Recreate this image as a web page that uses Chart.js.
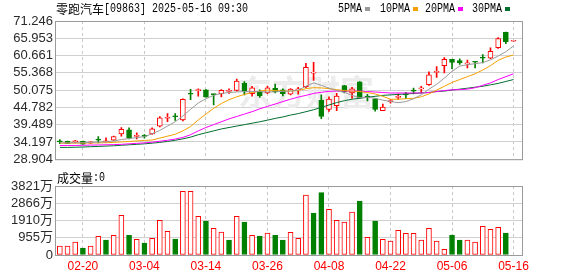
<!DOCTYPE html>
<html>
<head>
<meta charset="utf-8">
<script src="https://cdn.jsdelivr.net/npm/chart.js@4.4.1/dist/chart.umd.min.js"></script>
<style>
  html, body { margin: 0; padding: 0; background: #fff; }
  #wrap { position: relative; width: 578px; height: 276px; overflow: hidden; }
  #kline { position: absolute; left: 0; top: 0; }
  #vol { position: absolute; left: 0; top: 170px; }
</style>
</head>
<body>
<div id="wrap">
  <canvas id="kline" width="578" height="170"></canvas>
  <canvas id="vol" width="578" height="106"></canvas>
</div>
<script>
// trading days shown (HK market, 2025)
var dates = ['02-17','02-18','02-19','02-20','02-21','02-24','02-25','02-26','02-27','02-28',
  '03-03','03-04','03-05','03-06','03-07','03-10','03-11','03-12','03-13','03-14',
  '03-17','03-18','03-19','03-20','03-21','03-24','03-25','03-26','03-27','03-28',
  '03-31','04-01','04-02','04-03','04-07','04-08','04-09','04-10','04-11','04-14',
  '04-15','04-16','04-17','04-22','04-23','04-24','04-25','04-28','04-29','04-30',
  '05-02','05-06','05-07','05-08','05-09','05-12','05-13','05-14','05-15','05-16'];

var open = [34.34,34.40,34.25,34.40,33.81,34.85,34.25,34.70,36.64,37.93,
  35.90,36.05,36.64,38.99,41.45,42.05,40.96,48.95,49.93,50.16,
  48.81,48.99,49.69,49.99,52.13,48.99,49.78,49.19,50.66,50.16,
  48.81,50.16,51.16,55.28,47.05,44.19,45.28,51.46,49.19,52.63,
  48.02,47.43,43.81,46.55,47.87,48.75,49.93,50.43,51.75,55.49,
  57.57,59.48,59.13,58.10,58.72,59.98,59.87,63.07,67.78,65.05];
var high = [34.93,34.45,34.70,34.45,34.25,35.81,35.46,36.00,38.61,38.52,
  36.99,36.46,38.52,41.93,42.87,42.87,47.43,50.28,50.46,50.20,
  48.85,50.22,50.46,53.46,52.72,51.25,50.16,51.34,51.93,50.46,
  50.52,50.96,58.31,58.60,48.61,48.02,49.11,51.55,50.96,52.72,
  48.81,47.50,45.81,47.22,48.90,49.43,50.66,51.25,55.66,57.28,
  60.07,59.50,59.69,59.28,58.81,60.95,63.01,66.19,67.87,65.15];
var low = [33.70,33.65,33.90,33.45,33.75,33.90,34.05,34.60,35.96,35.08,
  35.08,35.37,36.46,38.76,40.37,40.75,40.66,47.13,48.22,47.90,
  45.52,48.02,49.05,49.78,48.61,48.22,47.81,48.99,49.19,48.31,
  48.61,48.81,50.81,53.01,41.34,43.52,43.75,49.19,47.52,47.43,
  46.75,43.61,43.75,46.05,47.22,47.43,48.90,49.28,51.49,53.99,
  55.37,56.63,57.95,56.84,56.90,58.40,59.72,62.87,64.33,65.05];
var close = [34.20,33.70,34.32,33.52,34.20,34.75,34.35,35.87,38.02,35.37,
  36.05,35.90,38.22,41.55,41.65,41.90,47.22,48.80,50.07,47.93,
  48.69,49.99,49.84,52.87,49.78,50.75,48.31,50.75,49.49,48.99,
  50.37,50.28,57.05,55.43,41.99,47.34,48.22,49.49,50.46,47.67,
  47.87,44.19,44.87,46.69,48.02,48.61,49.78,50.58,54.78,55.63,
  59.48,58.54,58.37,58.22,58.60,59.84,61.98,65.89,64.92,65.12];

// moving averages as drawn on the chart
var ma5 = [33.90,33.90,33.96,33.96,34.05,34.14,34.20,34.49,34.93,35.23,
  35.52,35.81,36.70,37.73,39.05,40.37,42.14,44.19,46.11,47.43,
  48.46,49.05,49.34,49.49,49.63,49.63,49.63,49.49,49.55,49.69,
  49.78,50.08,51.25,52.28,51.55,50.66,49.93,49.34,48.46,47.72,
  47.87,47.58,46.99,46.55,46.25,46.55,47.43,48.61,50.37,51.84,
  53.75,55.81,57.43,57.87,58.16,58.51,59.34,60.51,61.84,63.60];
var ma10 = [33.81,33.81,33.84,33.84,33.90,33.90,33.96,34.05,34.20,34.34,
  34.49,34.64,34.79,35.37,35.96,36.55,37.58,38.90,40.96,42.72,
  44.49,45.96,47.14,48.02,48.75,49.34,49.78,50.08,49.93,49.78,
  49.78,49.93,50.52,50.81,50.75,50.52,50.22,49.93,49.78,49.63,
  49.34,48.90,48.17,47.28,47.28,47.43,47.58,48.02,48.90,50.08,
  51.25,52.43,53.31,54.19,55.07,56.25,57.57,59.19,60.22,60.81];
var ma20 = [33.11,33.11,33.11,33.17,33.23,33.26,33.32,33.37,33.46,33.61,
  33.76,33.90,34.11,34.40,34.70,35.08,35.58,36.40,37.58,38.61,
  39.49,40.37,41.25,41.99,42.72,43.46,44.34,45.08,45.81,46.55,
  47.28,47.93,48.46,49.05,49.40,49.69,49.78,49.78,49.78,49.78,
  49.63,49.49,49.34,49.19,49.19,49.19,49.19,49.19,49.34,49.63,
  49.93,50.16,50.22,50.37,50.81,51.55,52.28,53.31,54.19,55.07];
var ma30 = [32.52,32.52,32.58,32.64,32.73,32.81,32.93,33.02,33.17,33.32,
  33.46,33.61,33.81,34.05,34.34,34.70,35.14,35.67,36.40,36.99,
  37.58,38.17,38.61,39.05,39.49,39.93,40.37,40.87,41.40,41.84,
  42.43,42.87,43.46,44.05,44.78,45.52,46.25,46.84,47.28,47.58,
  47.87,48.17,48.46,48.61,48.75,48.90,49.05,49.19,49.34,49.63,
  49.78,50.08,50.37,50.66,50.96,51.25,51.69,52.13,52.72,53.31];

// volume in 万 shares, and bar direction (1 = red, -1 = green)
var volume = [498,498,720,388,498,1034,831,1090,2197,1090,
  868,665,923,1920,1311,886,3526,3526,2142,1883,
  1477,1274,831,2142,1828,1090,1052,1218,1090,831,
  1255,923,3323,2326,3452,2529,1920,1828,2381,2991,
  978,1883,868,775,1366,1200,1200,831,1477,775,
  314,1108,831,831,720,1589,1423,1534,1218,0];
var volDir = [1,1,1,-1,1,1,-1,1,1,-1, 1,-1,1,1,1,-1,1,1,1,-1,
  1,1,-1,1,-1,1,-1,1,-1,-1, 1,1,1,-1,-1,1,1,1,1,-1,
  1,-1,1,1,1,1,1,1,1,1, 1,-1,-1,1,1,1,1,1,-1,1];

var priceTicks = [28.904, 34.197, 39.489, 44.782, 50.075, 55.368, 60.661, 65.953, 71.246];
var volTicks = [0, 955, 1910, 2866, 3821];
var xLabels = ['02-20', '03-04', '03-14', '03-26', '04-08', '04-22', '05-06', '05-16'];

var RED = '#ff0000', GREEN = '#008000';
var maColors = ['#9a9a9a', '#f5a000', '#ff00ff', '#006f2e'];
var SANS = "'Liberation Sans', 'Noto Sans CJK SC', sans-serif";

function pts(arr) {
    return arr.map(function (v, i) { return { x: i, y: v }; });
}

function isUp(i) { return close[i] >= open[i]; }

// x axis shared by both panels
function xAxis(showLabels) {
    return {
        type: 'linear', min: -0.5, max: 60.1, bounds: 'data', offset: false,
        afterBuildTicks: function (s) {
            s.ticks = xLabels.map(function (d) { return { value: dates.indexOf(d) }; });
        },
        afterFit: function (s) { s.height = showLabels ? 21 : 0; },
        ticks: {
            display: showLabels, autoSkip: false, maxRotation: 0, padding: 4,
            color: RED, font: { family: SANS, size: 12 },
            callback: function (v) { return dates[v]; }
        },
        grid: { color: '#c8c8c8', lineWidth: 1, drawTicks: false, offset: false, borderDash: [3, 3] },
        border: { display: false, dash: [3, 3] }
    };
}

// half-width text, the way the original bitmap font looks
function monoText(ctx, s, x, y, color) {
    ctx.save();
    ctx.translate(x, y);
    ctx.scale(0.833, 1);
    ctx.font = "12px 'Liberation Mono', monospace";
    ctx.fillStyle = color;
    ctx.textBaseline = 'middle';
    ctx.fillText(s, 0, 0);
    ctx.restore();
}

var framePlugin = {
    id: 'frame',
    afterDraw: function (chart) {
        var a = chart.chartArea, ctx = chart.ctx;
        ctx.save();
        ctx.strokeStyle = '#9a9a9a';
        ctx.lineWidth = 1;
        ctx.strokeRect(a.left - 0.5, a.top + 0.5, a.right - a.left + 1, a.bottom - a.top);
        ctx.restore();
    }
};

var watermark = {
    id: 'watermark',
    beforeDatasetsDraw: function (chart) {
        var ctx = chart.ctx;
        ctx.save();
        ctx.fillStyle = '#ececec';
        ctx.font = "bold 34px 'Noto Sans CJK SC'";
        ctx.textBaseline = 'middle';
        ctx.fillText('东方财富', 238, 92);
        ctx.restore();
    }
};

var header = {
    id: 'header',
    afterDraw: function (chart) {
        var ctx = chart.ctx;
        ctx.save();
        ctx.fillStyle = '#000';
        ctx.font = "12px 'Noto Sans CJK SC'";
        ctx.textBaseline = 'middle';
        ctx.fillText('零跑汽车', 56, 9);
        ctx.restore();
        monoText(ctx, '[09863] 2025-05-16 09:30', 104, 9, '#000');

        var names = ['5PMA', '10PMA', '20PMA', '30PMA'];
        var xs = [338, 380, 425, 472];
        for (var k = 0; k < names.length; k++) {
            monoText(ctx, names[k], xs[k], 9, '#000');
            var w = names[k].length * 6;
            ctx.fillStyle = maColors[k];
            ctx.fillRect(xs[k] + w + 3, 7, 5, 4);
        }
    }
};

var volTitle = {
    id: 'volTitle',
    afterDraw: function (chart) {
        var ctx = chart.ctx;
        ctx.save();
        ctx.fillStyle = '#000';
        ctx.font = "12px 'Noto Sans CJK SC'";
        ctx.textBaseline = 'middle';
        ctx.fillText('成交量', 57, 8);
        ctx.restore();
        monoText(ctx, ':0', 93, 8, '#000');
    }
};

var candleData = dates.map(function (d, i) { return { x: i, y: [open[i], close[i]] }; });
var wickData = dates.map(function (d, i) { return { x: i, y: [low[i], high[i]] }; });

var maSets = [ma5, ma10, ma20, ma30].map(function (arr, k) {
    return {
        type: 'line', data: pts(arr), borderColor: maColors[k], borderWidth: 1,
        pointRadius: 0, tension: 0, fill: false, order: 0
    };
});

new Chart(document.getElementById('kline'), {
    type: 'bar',
    data: {
        datasets: maSets.concat([{
            data: candleData, grouped: false, order: 1,
            barThickness: 5, minBarLength: 1, borderWidth: 1, borderSkipped: false,
            backgroundColor: function (c) { return isUp(c.dataIndex) ? '#fff' : GREEN; },
            borderColor: function (c) { return isUp(c.dataIndex) ? RED : GREEN; }
        }, {
            data: wickData, grouped: false, order: 2,
            barThickness: 1, borderWidth: 0,
            backgroundColor: function (c) { return isUp(c.dataIndex) ? RED : GREEN; }
        }])
    },
    options: {
        responsive: false, animation: false, events: [], devicePixelRatio: 1,
        layout: { padding: { left: 0, right: 56, top: 21, bottom: 5 } },
        plugins: { legend: { display: false }, tooltip: { enabled: false } },
        scales: {
            x: xAxis(false),
            y: {
                min: priceTicks[0], max: priceTicks[priceTicks.length - 1], bounds: 'data',
                afterBuildTicks: function (s) {
                    s.ticks = priceTicks.map(function (v) { return { value: v }; });
                },
                afterFit: function (s) { s.width = 56; },
                ticks: {
                    autoSkip: false, padding: 3, color: '#2a2a2a',
                    font: { family: SANS, size: 13 },
                    callback: function (v) { return v.toFixed(3); }
                },
                grid: { color: '#d0d0d0', drawTicks: false },
                border: { display: false }
            }
        }
    },
    plugins: [watermark, framePlugin, header]
});

new Chart(document.getElementById('vol'), {
    type: 'bar',
    data: {
        datasets: [{
            data: pts(volume), grouped: false,
            barThickness: 5, borderWidth: 1, borderSkipped: false,
            backgroundColor: function (c) { return volDir[c.dataIndex] > 0 ? '#fff' : GREEN; },
            borderColor: function (c) { return volDir[c.dataIndex] > 0 ? RED : GREEN; }
        }]
    },
    options: {
        responsive: false, animation: false, events: [], devicePixelRatio: 1,
        layout: { padding: { left: 0, right: 56, top: 16, bottom: 0 } },
        plugins: { legend: { display: false }, tooltip: { enabled: false } },
        scales: {
            x: xAxis(true),
            y: {
                min: 0, max: volTicks[volTicks.length - 1], bounds: 'data',
                afterBuildTicks: function (s) {
                    s.ticks = volTicks.map(function (v) { return { value: v }; });
                },
                afterFit: function (s) { s.width = 56; },
                ticks: {
                    autoSkip: false, padding: 3, color: '#2a2a2a',
                    font: { family: SANS, size: 13 },
                    callback: function (v) { return v === 0 ? '0' : v + '万'; }
                },
                grid: { color: '#d0d0d0', drawTicks: false },
                border: { display: false }
            }
        }
    },
    plugins: [framePlugin, volTitle]
});
</script>
</body>
</html>
